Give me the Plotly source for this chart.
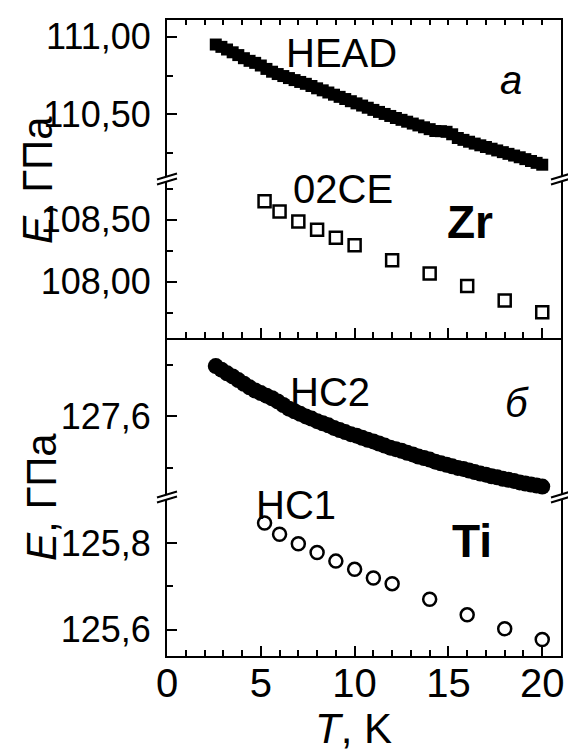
import plotly.graph_objects as go

# ---------------- data ----------------
T_dense = [2.6, 2.9, 3.2, 3.5, 3.8, 4.1, 4.4, 4.7, 5.0, 5.3, 5.6, 5.9, 6.2, 6.5, 6.8,
           7.1, 7.4, 7.7, 8.0, 8.3, 8.6, 8.9, 9.2, 9.5, 9.8, 10.1, 10.4, 10.7, 11.0,
           11.3, 11.6, 11.9, 12.2, 12.5, 12.8, 13.1, 13.4, 13.7, 14.0, 14.3, 14.6,
           14.9, 15.2, 15.5, 15.8, 16.1, 16.4, 16.7, 17.0, 17.3, 17.6, 17.9, 18.2,
           18.5, 18.8, 19.1, 19.4, 19.7, 20.0]

E_head = [110.950, 110.935, 110.918, 110.900, 110.882, 110.862, 110.845, 110.832,
          110.815, 110.793, 110.775, 110.760, 110.747, 110.734, 110.721, 110.709,
          110.697, 110.683, 110.668, 110.655, 110.641, 110.627, 110.613, 110.599,
          110.585, 110.571, 110.557, 110.543, 110.529, 110.516, 110.503, 110.490,
          110.477, 110.465, 110.453, 110.441, 110.429, 110.417, 110.405, 110.393,
          110.392, 110.388, 110.372, 110.348, 110.336, 110.324, 110.312, 110.301,
          110.290, 110.279, 110.268, 110.257, 110.246, 110.235, 110.224, 110.212,
          110.200, 110.188, 110.176]

E_hc2 = [127.697, 127.690, 127.683, 127.677, 127.670, 127.663, 127.656, 127.650,
         127.645, 127.640, 127.635, 127.629, 127.622, 127.615, 127.610, 127.605,
         127.600, 127.596, 127.591, 127.587, 127.583, 127.578, 127.574, 127.570,
         127.566, 127.563, 127.559, 127.555, 127.552, 127.548, 127.544, 127.540,
         127.537, 127.534, 127.530, 127.527, 127.523, 127.520, 127.517, 127.513,
         127.510, 127.507, 127.504, 127.501, 127.499, 127.496, 127.493, 127.490,
         127.488, 127.485, 127.483, 127.480, 127.478, 127.476, 127.473, 127.471,
         127.469, 127.467, 127.465]

T_02ce = [5.2, 6, 7, 8, 9, 10, 12, 14, 16, 18, 20]
E_02ce = [108.647, 108.566, 108.485, 108.418, 108.354, 108.293, 108.173, 108.066,
          107.965, 107.848, 107.755]

T_hc1 = [5.2, 6, 7, 8, 9, 10, 11, 12, 14, 16, 18, 20]
E_hc1 = [125.846, 125.820, 125.798, 125.778, 125.758, 125.739, 125.719, 125.706,
         125.670, 125.634, 125.602, 125.577]

x_major = [0, 5, 10, 15, 20]
x_minor = [1, 2, 3, 4, 6, 7, 8, 9, 11, 12, 13, 14, 16, 17, 18, 19]

zr_up_ticks = [110.5, 111.0]
zr_up_minor = [110.25, 110.75]
zr_lo_ticks = [108.0, 108.5]
zr_lo_minor = [107.75, 108.25, 108.75]
ti_up_ticks = [127.6]
ti_up_minor = [127.5, 127.7]
ti_lo_ticks = [125.6, 125.8]
ti_lo_minor = [125.7]

# ---------------- layout geometry ----------------
W, H = 568, 752
L, R, T, B = 167, 4, 20, 96
PW, PH = W - L - R, H - T - B

def px(x):
    return (x - L) / PW

def py(y):
    return (H - B - y) / PH

FONT = "Liberation Sans, Arial, sans-serif"

fig = go.Figure()
fig.add_trace(go.Scatter(x=T_dense, y=E_head, mode="markers", xaxis="x", yaxis="y",
                         marker=dict(symbol="square", size=12, color="black", line=dict(width=0))))
fig.add_trace(go.Scatter(x=T_02ce, y=E_02ce, mode="markers", xaxis="x2", yaxis="y2",
                         marker=dict(symbol="square-open", size=12, color="black",
                                     line=dict(width=2.5, color="black"))))
fig.add_trace(go.Scatter(x=T_dense, y=E_hc2, mode="markers", xaxis="x3", yaxis="y3",
                         marker=dict(symbol="circle", size=16, color="black", line=dict(width=0))))
fig.add_trace(go.Scatter(x=T_hc1, y=E_hc1, mode="markers", xaxis="x4", yaxis="y4",
                         marker=dict(symbol="circle-open", size=13, color="black",
                                     line=dict(width=2.5, color="black"))))

common_x = dict(range=[0, 21], showgrid=False, zeroline=False, linecolor="black",
                linewidth=2, tickcolor="black", tickwidth=2)

def yax(domain, anchor, rng, ticks, minor, fmt):
    return dict(domain=domain, anchor=anchor, range=rng, showgrid=False, zeroline=False,
                showline=True, mirror=True, linecolor="black", linewidth=2,
                ticks="inside", ticklen=10, tickwidth=2, tickcolor="black",
                tickmode="array", tickvals=ticks, tickformat=fmt, ticklabelstandoff=7,
                tickfont=dict(family=FONT, size=36, color="black"),
                minor=dict(tickmode="array", tickvals=minor, ticks="inside", ticklen=6,
                           tickwidth=2, tickcolor="black"))

fig.update_layout(
    width=W, height=H, margin=dict(l=L, r=R, t=T, b=B),
    paper_bgcolor="white", plot_bgcolor="white", showlegend=False,
    separators=", ",
    font=dict(family=FONT, color="black"),
    xaxis=dict(common_x, anchor="y", side="top", showline=True, ticks="inside",
               tickmode="array", tickvals=x_major + x_minor, ticklen=5,
               showticklabels=False),
    xaxis2=dict(common_x, anchor="y2", matches="x", showline=True, ticks="inside",
                tickmode="array", tickvals=x_major, ticklen=10, showticklabels=False,
                minor=dict(tickmode="array", tickvals=x_minor, ticks="inside", ticklen=6,
                           tickwidth=2, tickcolor="black")),
    xaxis3=dict(common_x, anchor="y3", matches="x", showline=False, ticks="",
                showticklabels=False),
    xaxis4=dict(common_x, anchor="y4", matches="x", showline=True, ticks="inside",
                tickmode="array", tickvals=x_major, ticklen=10, ticklabelstandoff=-9,
                tickfont=dict(family=FONT, size=40, color="black"),
                minor=dict(tickmode="array", tickvals=x_minor, ticks="inside", ticklen=6,
                           tickwidth=2, tickcolor="black")),
    yaxis=yax([0.75, 1.0], "x", [110.084, 111.108], zr_up_ticks, zr_up_minor, ".2f"),
    yaxis2=yax([0.5, 0.75], "x2", [107.547, 108.827], zr_lo_ticks, zr_lo_minor, ".2f"),
    yaxis3=yax([0.25, 0.5], "x3", [127.445, 127.751], ti_up_ticks, ti_up_minor, ".1f"),
    yaxis4=yax([0.0, 0.25], "x4", [125.539, 125.906], ti_lo_ticks, ti_lo_minor, ".1f"),
)

def note(text, x, y, size, angle=0):
    fig.add_annotation(text=text, x=px(x), y=py(y), xref="paper", yref="paper",
                       showarrow=False, xanchor="center", yanchor="middle",
                       textangle=angle, font=dict(family=FONT, size=size, color="black"))

note("HEAD", 343, 53, 40)
note("<i>а</i>", 514, 80, 40)
note("02CE", 344, 189, 40)
note("<b>Zr</b>", 472, 222, 46)
note("HC2", 331, 392, 40)
note("<i>б</i>", 520, 403, 40)
note("HC1", 297, 505, 40)
note("<b>Ti</b>", 474, 541, 46)
note("<i>E</i>, ГПа", 36, 180, 42, -90)
note("<i>E</i>, ГПа", 40, 497, 42, -90)
note("<i>T</i>, K", 355, 728, 42)

# axis-break marks (white gap bounded by two slanted strokes)
for xa in (0, 1):
    for ya in (0.75, 0.25):
        fig.add_shape(type="path", xref="paper", yref="paper", xsizemode="pixel",
                      ysizemode="pixel", xanchor=xa, yanchor=ya,
                      path="M -10 -5.5 L 10 0.5 L 10 5.5 L -10 -0.5 Z",
                      fillcolor="white", line=dict(width=0), layer="above")
        fig.add_shape(type="path", xref="paper", yref="paper", xsizemode="pixel",
                      ysizemode="pixel", xanchor=xa, yanchor=ya,
                      path="M -10 -5.5 L 10 0.5 M -10 -0.5 L 10 5.5",
                      line=dict(width=2, color="black"), layer="above")

fig.write_html("out.html", config={"displayModeBar": False},
               post_script="document.body.style.margin='0px';")
